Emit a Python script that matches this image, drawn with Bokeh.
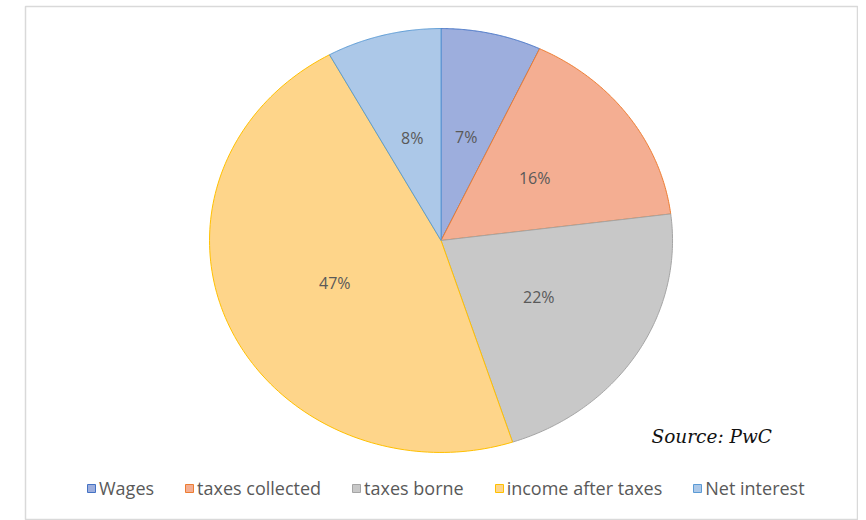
import numpy as np
from bokeh.plotting import figure
from bokeh.models import Range1d, ColumnDataSource, Legend, LegendItem, Label
from bokeh.embed import file_html
from bokeh.resources import INLINE

categories = ["Wages", "taxes collected", "taxes borne", "income after taxes", "Net interest"]
shares = [7, 16, 22, 47, 8]
fill_colors = ["#9DAEDD", "#F4AE92", "#C8C8C8", "#FED58A", "#ACC8E8"]
edge_colors = ["#4472C4", "#ED7D31", "#A5A5A5", "#FFC000", "#5B9BD5"]
source_note = "Source: PwC"

p = figure(width=858, height=520, output_backend="svg", toolbar_location=None,
           x_range=Range1d(-1.795, 1.799), y_range=Range1d(-1.321, 1.104),
           min_border_left=25, min_border_right=1, min_border_top=6, min_border_bottom=0)
p.axis.visible = False
p.grid.visible = False
p.outline_line_color = "#D9D9D9"
p.outline_line_width = 1.5
p.background_fill_color = "white"
p.border_fill_color = "white"

vals = np.array(shares, dtype=float)
frac = vals / vals.sum()
ends = np.cumsum(frac) * 2 * np.pi
starts = ends - frac * 2 * np.pi

items = []
for i, cat in enumerate(categories):
    th = np.linspace(starts[i], ends[i], 120)
    xs = np.concatenate([[0.0], np.sin(th), [0.0]])
    ys = np.concatenate([[0.0], np.cos(th), [0.0]])
    r = p.patch(xs, ys, fill_color=fill_colors[i], line_color=edge_colors[i], line_width=1)
    items.append(LegendItem(label=cat, renderers=[r]))

mids = (starts + ends) / 2
lab = ColumnDataSource(dict(x=0.5 * np.sin(mids), y=0.5 * np.cos(mids),
                            t=[f"{int(round(f * 100))}%" for f in frac]))
p.text(x="x", y="y", text="t", source=lab, text_align="center", text_baseline="middle",
       text_color="#595959", text_font_size="16px", text_font={"value": "Open Sans"})

legend = Legend(items=items, orientation="horizontal", location=(61, 20),
                glyph_width=10, glyph_height=10, label_standoff=3, spacing=30,
                padding=0, margin=0, border_line_alpha=0, background_fill_alpha=0,
                label_text_font="Open Sans", label_text_font_size="18px",
                label_text_color="#595959")
p.add_layout(legend)

p.add_layout(Label(x=626, y=84, x_units="screen", y_units="screen", text=source_note,
                   text_font="DejaVu Serif", text_font_style="italic", text_font_size="18.5px",
                   text_color="#111111", text_baseline="middle"))

open("out.html", "w").write(file_html(p, INLINE))
